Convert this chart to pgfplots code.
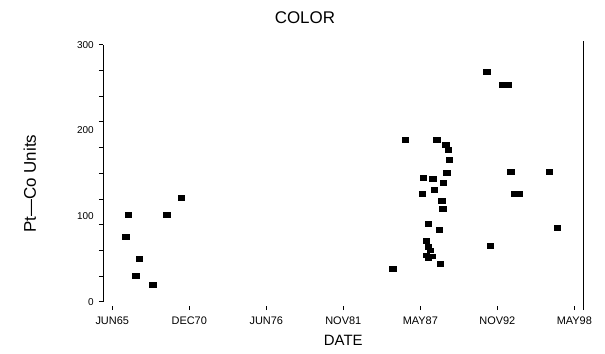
\documentclass[border=0pt]{standalone}
\usepackage{fontspec}
\setmainfont{Liberation Sans}
\usepackage{pgfplots}
\pgfplotsset{compat=1.18}
\begin{document}
\begin{tikzpicture}
\begin{axis}[
  at={(0,0)}, anchor=south west,
  scale only axis, width=480bp, height=268.8bp,
  xmin=1964.78, xmax=1999.06, ymin=-9.6, ymax=304,
  axis line style={draw=none},
  tick pos=left,
  xtick={1965.42,1970.92,1976.42,1981.92,1987.42,1992.92,1998.42},
  xticklabels={JUN65,DEC70,JUN76,NOV81,MAY87,NOV92,MAY98},
  xtick align=inside,
  x tick style={line width=0.7bp, black},
  x tick label style={font=\fontsize{11}{13}\selectfont, yshift=-3bp},
  major tick length=4.5bp,
  ytick={0,30,...,300}, yticklabels={},
  ytick align=outside,
  y tick style={line width=0.7bp, black},
  extra y ticks={0,100,200,300},
  extra y tick labels={0,100,200,300},
  extra y tick style={major tick length=0pt, yticklabel style={xshift=-6bp}},
  y tick label style={font=\fontsize{10}{12}\selectfont},
  xlabel={DATE},
  xlabel style={at={(axis description cs:0.5,-0.112)}, anchor=center, font=\fontsize{15}{17}\selectfont},
  ylabel={Pt---Co Units},
  ylabel style={at={(axis description cs:-0.153,0.47)}, anchor=center, font=\fontsize{17}{19}\selectfont},
  title={COLOR},
  title style={at={(axis description cs:0.42,1.066)}, anchor=center, font=\fontsize{17}{19}\selectfont},
  clip=false,
]
\draw[line width=1bp] (axis cs:1964.78,0) -- (axis cs:1964.78,300);
\draw[line width=1bp] (rel axis cs:1,0) -- (rel axis cs:1,1);
\addplot[only marks, mark=square*, mark size=2.4bp, mark options={xscale=1.35, fill=black, draw=black}] coordinates {
(1966.38,75.8) (1966.56,101.2) (1967.33,50.6) (1967.09,30.3) (1968.31,19.8) (1969.31,101.2) (1970.33,121.8)
(1986.33,188.7) (1988.59,188.7) (1989.23,183.7) (1989.42,177.8) (1989.47,165.3) (1989.31,150.5)
(1987.63,145.2) (1988.31,143.2) (1989.06,139.3) (1988.40,131.2) (1987.56,126.0) (1988.95,118.3)
(1989.02,109.0) (1987.99,91.5) (1988.76,83.7)
(1987.83,70.9) (1987.97,64.5) (1988.11,60.1) (1987.83,54.3) (1988.26,53.1) (1987.97,50.8)
(1988.83,44.8) (1985.45,39.0)
(1992.16,268.4) (1993.26,252.9) (1993.68,252.9) (1993.88,151.7) (1996.63,151.7)
(1994.11,126.5) (1994.47,126.5) (1997.21,86.3) (1992.42,65.0)
};
\end{axis}
\pgfresetboundingbox
\path[use as bounding box] (-103.3bp,-44bp) rectangle (501.7bp,310bp);
\end{tikzpicture}
\end{document}
